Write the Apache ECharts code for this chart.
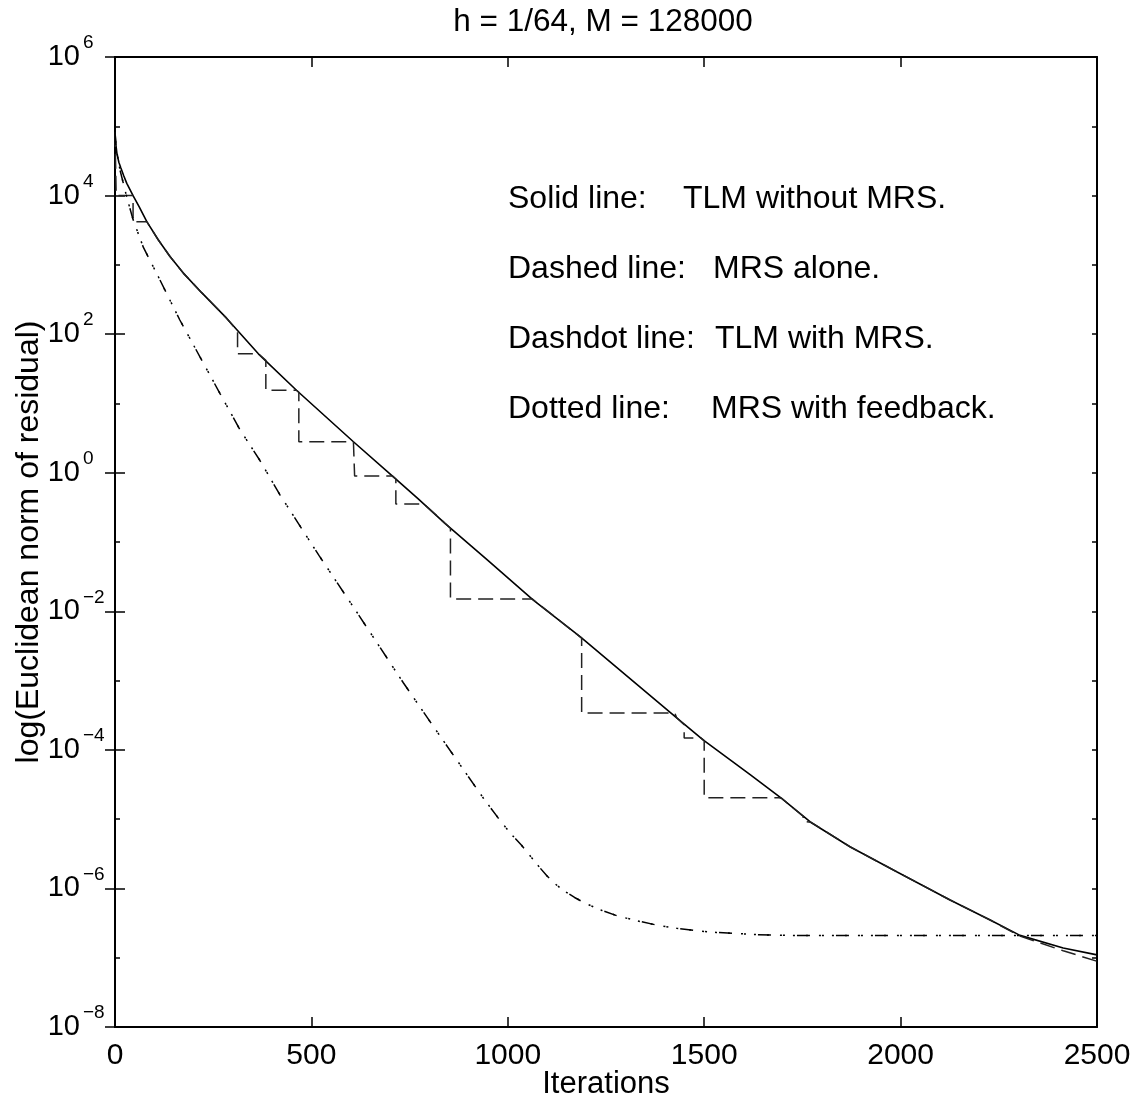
<!DOCTYPE html>
<html>
<head>
<meta charset="utf-8">
<title>h = 1/64, M = 128000</title>
<script src="https://cdn.jsdelivr.net/npm/echarts@6/dist/echarts.min.js"></script>
<style>
  html, body { margin: 0; padding: 0; background: #fff; }
  #chart { width: 1143px; height: 1110px; }
</style>
</head>
<body>
<div id="chart"></div>
<script>
// Solid line: TLM without MRS
var solidIt  = [0, 2, 5, 10, 15, 22, 30, 46, 62, 81, 110, 140, 174, 220, 284, 365, 462, 607, 713, 772, 840, 950, 1065, 1184, 1430, 1498, 1617, 1697, 1770, 1871, 1990, 2126, 2228, 2304, 2414, 2500];
var solidVal = [8.3e4, 5.6e4, 4.0e4, 3.0e4, 2.5e4, 1.95e4, 1.5e4, 1.0e4, 6.8e3, 4.2e3, 2.3e3, 1.32e3, 7.6e2, 4.0e2, 1.7e2, 52, 15.5, 2.8, 0.83, 0.42, 0.186, 5.4e-2, 1.45e-2, 4.3e-3, 2.9e-4, 1.38e-4, 4.4e-5, 2.0e-5, 9.1e-6, 4.0e-6, 1.74e-6, 6.8e-7, 3.5e-7, 2.1e-7, 1.38e-7, 1.1e-7];

// Dashed line: MRS alone (staircase)
var mrsIt  = [0, 3, 46, 46, 81, 110, 140, 174, 220, 284, 312, 312, 365, 384, 384, 462, 468, 468, 607, 610, 610, 706, 715, 715, 786, 854, 854, 1062, 1065, 1188, 1188, 1425, 1430, 1449, 1449, 1492, 1500, 1500, 1690, 1697, 1752, 1752, 1772, 1871, 1990, 2126, 2228, 2304, 2414, 2500];
var mrsVal = [8.3e4, 1.0e4, 1.0e4, 4.2e3, 4.2e3, 2.3e3, 1.32e3, 7.6e2, 4.0e2, 1.7e2, 1.1e2, 52, 52, 42, 15.5, 15.5, 14.5, 2.8, 2.8, 2.7, 0.9, 0.9, 0.81, 0.355, 0.355, 0.158, 0.0151, 0.0151, 0.0145, 4.1e-3, 3.4e-4, 3.4e-4, 2.9e-4, 2.3e-4, 1.48e-4, 1.48e-4, 1.36e-4, 2.04e-5, 2.04e-5, 2.0e-5, 1.1e-5, 9.3e-6, 9.0e-6, 4.0e-6, 1.74e-6, 6.8e-7, 3.5e-7, 2.05e-7, 1.26e-7, 8.9e-8];

// Dashdot line: TLM with MRS
var tlmMrsIt  = [0, 2, 5, 13, 20, 30, 46, 72, 110, 148, 165, 220, 267, 318, 369, 420, 520, 620, 734, 810, 938, 975, 1006, 1035, 1060, 1080, 1100, 1120, 1140, 1170, 1200, 1240, 1280, 1330, 1380, 1430, 1480, 1530, 1580, 1630, 1680, 1750, 2500];
var tlmMrsVal = [8.3e4, 5.6e4, 4.2e4, 2.3e4, 1.6e4, 9.5e3, 4.5e3, 1.8e3, 6.8e2, 2.5e2, 1.6e2, 43, 14, 4.2, 1.5, 0.48, 6.3e-2, 8.9e-3, 9.3e-4, 2.2e-4, 2.0e-5, 1.05e-5, 6.3e-6, 4.2e-6, 2.8e-6, 2.04e-6, 1.51e-6, 1.17e-6, 9.5e-7, 7.4e-7, 6.0e-7, 4.8e-7, 4.0e-7, 3.4e-7, 2.95e-7, 2.66e-7, 2.45e-7, 2.32e-7, 2.24e-7, 2.16e-7, 2.11e-7, 2.09e-7, 2.09e-7];

// Dotted line: MRS with feedback, it lies on top of the dashdot curve
var feedbackIt  = tlmMrsIt;
var feedbackVal = tlmMrsVal;

var xTicks = [0, 500, 1000, 1500, 2000, 2500];

var FONT = 'Liberation Sans';

function pairs(xs, ys) {
  return xs.map(function (x, i) { return [x, ys[i]]; });
}

// y labels are drawn as "10" plus a raised exponent on a twin axis
function expOnly(v) {
  var e = Math.round(Math.log10(v));
  return e < 0 ? '\u2212' + (-e) : String(e);
}

var chart = echarts.init(document.getElementById('chart'));

var xBase = {
  type: 'value', min: xTicks[0], max: xTicks[xTicks.length - 1], interval: 500,
  axisLine: { onZero: false, lineStyle: { color: '#000', width: 2 } },
  axisTick: { inside: true, length: 10, lineStyle: { color: '#000', width: 1.5 } },
  splitLine: { show: false }
};
var yBase = {
  type: 'log', logBase: 10, min: 1e-8, max: 1e6,
  axisLine: { lineStyle: { color: '#000', width: 2 } },
  splitLine: { show: false }
};
var majorTick = { inside: true, length: 10, lineStyle: { color: '#000', width: 1.5 } };
var minorTick = { inside: true, length: 5, lineStyle: { color: '#000', width: 1.5 } };

var lineBase = { type: 'line', symbol: 'none', animation: false, silent: true };

chart.setOption({
  animation: false,
  grid: { left: 115, top: 57, right: 46, bottom: 83, outerBoundsMode: 'none' },
  xAxis: [
    Object.assign({}, xBase, {
      position: 'bottom',
      name: 'Iterations', nameLocation: 'middle', nameGap: 42, nameMoveOverlap: false,
      nameTextStyle: { fontFamily: FONT, fontSize: 31, color: '#000' },
      axisLabel: { margin: 14, fontFamily: FONT, fontSize: 30, color: '#000', formatter: function (v) { return String(v); } }
    }),
    Object.assign({}, xBase, { position: 'top', axisLabel: { show: false } })
  ],
  yAxis: [
    Object.assign({}, yBase, {
      position: 'left', interval: 2, axisTick: majorTick,
      name: 'log(Euclidean norm of residual)', nameLocation: 'middle', nameGap: 70, nameMoveOverlap: false,
      nameTextStyle: { fontFamily: FONT, fontSize: 32, color: '#000' },
      axisLabel: { margin: 35, fontFamily: FONT, fontSize: 29, color: '#000', formatter: function () { return '10'; } }
    }),
    Object.assign({}, yBase, { position: 'right', interval: 2, axisTick: majorTick, axisLabel: { show: false } }),
    Object.assign({}, yBase, { position: 'left', interval: 1, axisTick: minorTick, axisLabel: { show: false } }),
    Object.assign({}, yBase, { position: 'right', interval: 1, axisTick: minorTick, axisLabel: { show: false } }),
    Object.assign({}, yBase, {
      position: 'left', interval: 2, axisLine: { show: false }, axisTick: { show: false },
      axisLabel: { margin: 32, align: 'left', verticalAlign: 'bottom', lineHeight: 28, fontFamily: FONT, fontSize: 19, color: '#000', formatter: expOnly }
    })
  ],
  graphic: [
    { type: 'text', x: 603, y: 22, style: { text: 'h = 1/64, M = 128000', fontFamily: FONT, fontSize: 31.5, fill: '#000', align: 'center', verticalAlign: 'middle' } },
    { type: 'text', x: 508, y: 199, style: { text: 'Solid line:', fontFamily: FONT, fontSize: 32, fill: '#000', verticalAlign: 'middle' } },
    { type: 'text', x: 683, y: 199, style: { text: 'TLM without MRS.', fontFamily: FONT, fontSize: 32, fill: '#000', verticalAlign: 'middle' } },
    { type: 'text', x: 508, y: 269, style: { text: 'Dashed line:', fontFamily: FONT, fontSize: 32, fill: '#000', verticalAlign: 'middle' } },
    { type: 'text', x: 713, y: 269, style: { text: 'MRS alone.', fontFamily: FONT, fontSize: 32, fill: '#000', verticalAlign: 'middle' } },
    { type: 'text', x: 508, y: 339, style: { text: 'Dashdot line:', fontFamily: FONT, fontSize: 32, fill: '#000', verticalAlign: 'middle' } },
    { type: 'text', x: 715, y: 339, style: { text: 'TLM with MRS.', fontFamily: FONT, fontSize: 32, fill: '#000', verticalAlign: 'middle' } },
    { type: 'text', x: 508, y: 409, style: { text: 'Dotted line:', fontFamily: FONT, fontSize: 32, fill: '#000', verticalAlign: 'middle' } },
    { type: 'text', x: 711, y: 409, style: { text: 'MRS with feedback.', fontFamily: FONT, fontSize: 32, fill: '#000', verticalAlign: 'middle' } }
  ],
  series: [
    Object.assign({}, lineBase, {
      name: 'Solid line', data: pairs(solidIt, solidVal),
      lineStyle: { color: '#000', width: 1.6, type: 'solid' }
    }),
    Object.assign({}, lineBase, {
      name: 'Dashed line', data: pairs(mrsIt, mrsVal),
      lineStyle: { color: '#222', width: 1.5, type: [15, 7] }
    }),
    Object.assign({}, lineBase, {
      name: 'Dashdot line', data: pairs(tlmMrsIt, tlmMrsVal),
      lineStyle: { color: '#000', width: 1.5, type: [13, 12, 2, 12] }
    }),
    Object.assign({}, lineBase, {
      name: 'Dotted line', data: pairs(feedbackIt, feedbackVal),
      lineStyle: { color: '#000', width: 1.5, type: [2, 11], dashOffset: 4 }
    })
  ]
});
</script>
</body>
</html>
